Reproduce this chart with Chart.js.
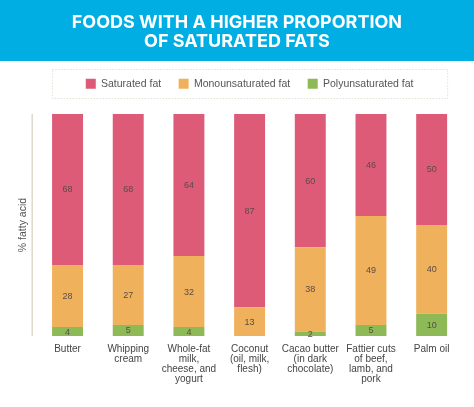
<!DOCTYPE html>
<html>
<head>
<meta charset="utf-8">
<script src="https://cdn.jsdelivr.net/npm/chart.js@4"></script>
<style>
  html, body { margin: 0; padding: 0; background: #fff; }
  #wrap { width: 474px; height: 407px; }
</style>
</head>
<body>
<div id="wrap"><canvas id="fatChart" width="474" height="407"></canvas></div>
<script>
// ─── Data ─────────────────────────────────────────────────────
const foods = [
  'Butter',
  ['Whipping', 'cream'],
  ['Whole-fat', 'milk,', 'cheese, and', 'yogurt'],
  ['Coconut', '(oil, milk,', 'flesh)'],
  ['Cacao butter', '(in dark', 'chocolate)'],
  ['Fattier cuts', 'of beef,', 'lamb, and', 'pork'],
  'Palm oil',
];
const polyunsaturated = [4, 5, 4, 0, 2, 5, 10];
const monounsaturated = [28, 27, 32, 13, 38, 49, 40];
const saturated       = [68, 68, 64, 87, 60, 46, 50];

const titleLines = ['FOODS WITH A HIGHER PROPORTION', 'OF SATURATED FATS'];
const yTitle = '% fatty acid';

// ─── Colours ──────────────────────────────────────────────────
const RED    = '#de5b78';
const ORANGE = '#efb15b';
const GREEN  = '#8db956';
const BLUE   = '#00aee4';
const SANS   = "'Liberation Sans', Arial, sans-serif";

// blue band behind the title
const headerBand = {
  id: 'headerBand',
  beforeDraw(chart) {
    const { ctx, width } = chart;
    ctx.save();
    ctx.fillStyle = BLUE;
    ctx.fillRect(0, 0, width, chart.titleBlock.bottom);
    ctx.restore();
  },
};

// extra room under the legend + dotted frame around it
const legendFrame = {
  id: 'legendFrame',
  beforeInit(chart) {
    const fit = chart.legend.fit;
    chart.legend.fit = function () {
      fit.bind(chart.legend)();
      this.height += 15;
    };
  },
  afterDraw(chart) {
    const { ctx, legend } = chart;
    const bars = chart.getDatasetMeta(0).data;
    const first = bars[0], last = bars[bars.length - 1];
    const x0 = first.x - first.width / 2, x1 = last.x + last.width / 2;
    const cy = legend.top + legend.options.labels.padding + 5.25;
    ctx.save();
    ctx.strokeStyle = '#d6d2bf';
    ctx.lineWidth = 1;
    ctx.setLineDash([1, 2]);
    ctx.strokeRect(x0 + 0.5, Math.round(cy - 14.5) + 0.5, x1 - x0, 29);
    ctx.restore();
  },
};

// thin vertical axis line a little left of the plot
const axisLine = {
  id: 'axisLine',
  beforeDatasetsDraw(chart) {
    const { ctx, chartArea, scales } = chart;
    ctx.save();
    ctx.strokeStyle = '#dcd9c9';
    ctx.lineWidth = 1.5;
    ctx.beginPath();
    ctx.moveTo(chartArea.left - 5, scales.y.getPixelForValue(100));
    ctx.lineTo(chartArea.left - 5, scales.y.getPixelForValue(0));
    ctx.stroke();
    ctx.restore();
  },
};

// values printed in the middle of each segment
const segmentLabels = {
  id: 'segmentLabels',
  afterDatasetsDraw(chart) {
    const { ctx } = chart;
    ctx.save();
    ctx.font = "9px 'Liberation Sans', Arial, sans-serif";
    ctx.fillStyle = '#5a4c46';
    ctx.textAlign = 'center';
    ctx.textBaseline = 'middle';
    chart.data.datasets.forEach((ds, i) => {
      chart.getDatasetMeta(i).data.forEach((bar, j) => {
        const v = ds.data[j];
        if (!v) return;
        ctx.fillText(String(v), bar.x, (bar.y + bar.base) / 2 + 0.5);
      });
    });
    ctx.restore();
  },
};

new Chart(document.getElementById('fatChart').getContext('2d'), {
  type: 'bar',
  data: {
    labels: foods,
    datasets: [
      { label: 'Polyunsaturated fat', data: polyunsaturated, backgroundColor: GREEN },
      { label: 'Monounsaturated fat', data: monounsaturated, backgroundColor: ORANGE },
      { label: 'Saturated fat',       data: saturated,       backgroundColor: RED },
    ],
  },
  options: {
    responsive: false,
    animation: false,
    devicePixelRatio: 1,
    layout: { padding: { left: 11.8, right: 12, top: 0, bottom: 15 } },
    datasets: { bar: { categoryPercentage: 0.51, barPercentage: 1 } },
    plugins: {
      tooltip: { enabled: false },
      title: {
        display: true,
        text: titleLines,
        color: '#ffffff',
        font: { family: 'Inter', weight: '700', size: 18, lineHeight: '18.4px' },
        padding: { top: 13.6, bottom: 10.6 },
      },
      legend: {
        display: true,
        fullSize: false,
        reverse: true,
        labels: {
          boxWidth: 10,
          boxHeight: 10,
          padding: 17.5,
          color: '#555',
          font: { family: SANS, size: 10.5 },
        },
      },
    },
    scales: {
      x: {
        stacked: true,
        grid: { display: false, drawTicks: false },
        border: { display: false },
        ticks: {
          color: '#444',
          padding: 8,
          autoSkip: false,
          maxRotation: 0,
          minRotation: 0,
          font: { family: SANS, size: 10, lineHeight: '10px' },
        },
      },
      y: {
        stacked: true,
        min: 0, max: 100,
        grid: { display: false, drawTicks: false },
        border: { display: false },
        ticks: { display: false },
        title: {
          display: true,
          text: yTitle,
          color: '#555',
          padding: { top: 5.5, bottom: 7.3 },
          font: { family: SANS, size: 10.5 },
        },
      },
    },
  },
  plugins: [headerBand, legendFrame, axisLine, segmentLabels],
});
</script>
</body>
</html>
